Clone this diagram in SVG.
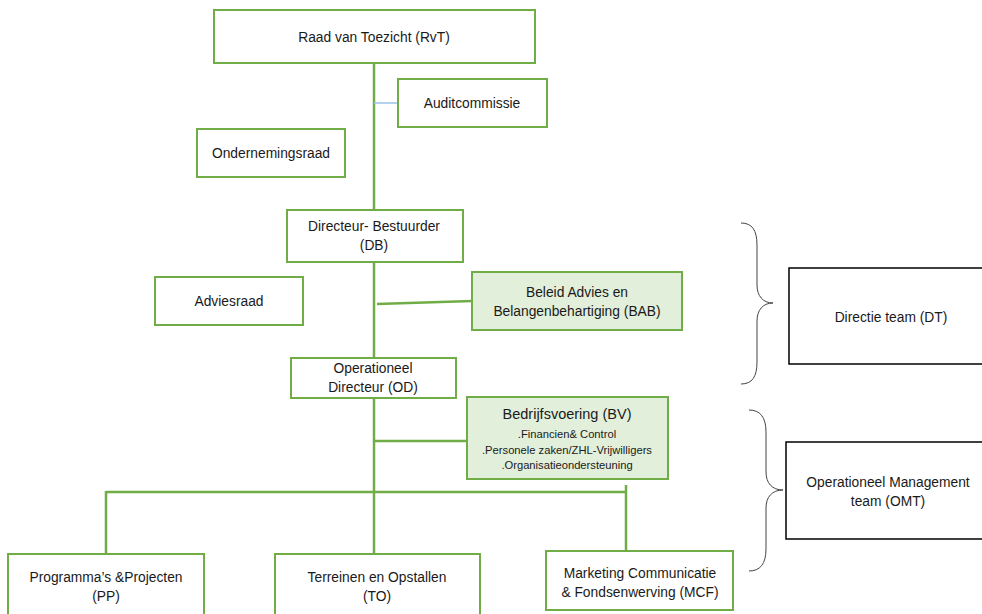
<svg xmlns="http://www.w3.org/2000/svg" width="982" height="614" viewBox="0 0 982 614">
<style>
.box{fill:#ffffff;stroke:#70ad47;stroke-width:2}
.gbox{fill:#e2efda;stroke:#70ad47;stroke-width:2}
.kbox{fill:#ffffff;stroke:#000000;stroke-width:1.5}
.t{font-family:"Liberation Sans",Arial,sans-serif;font-size:13.8px;fill:#1a1a1a;text-anchor:middle}
.s{font-family:"Liberation Sans",Arial,sans-serif;font-size:11.2px;fill:#1a1a1a;text-anchor:middle}
.c{fill:none;stroke:#70ad47;stroke-width:2.5}
.brace{fill:none;stroke:#444444;stroke-width:1}
</style>
<g id="connectors">
<line class="c" x1="374" y1="63" x2="374" y2="210"/>
<line x1="374" y1="103" x2="398" y2="103" stroke="#9dc3e6" stroke-width="1.5"/>
<line class="c" x1="374" y1="262" x2="374" y2="358"/>
<line class="c" x1="377" y1="304" x2="472" y2="301"/>
<line class="c" x1="374" y1="398" x2="374" y2="554"/>
<line class="c" x1="374" y1="441" x2="467" y2="441"/>
<line class="c" x1="106" y1="492" x2="627" y2="492"/>
<line class="c" x1="106" y1="491" x2="106" y2="554"/>
<line class="c" x1="626" y1="485" x2="626" y2="551"/>
</g>
<g id="rvt"><rect class="box" x="214" y="10" width="321" height="53"/><text class="t" x="374" y="42">Raad van Toezicht (RvT)</text></g>
<g id="audit"><rect class="box" x="398" y="79" width="149" height="48"/><text class="t" x="472" y="108">Auditcommissie</text></g>
<g id="or"><rect class="box" x="197" y="129" width="148" height="48"/><text class="t" x="271" y="158">Ondernemingsraad</text></g>
<g id="db"><rect class="box" x="287" y="210" width="176" height="52"/><text class="t" x="374" y="231">Directeur- Bestuurder</text><text class="t" x="374" y="250">(DB)</text></g>
<g id="adviesraad"><rect class="box" x="155" y="277" width="148" height="48"/><text class="t" x="229" y="306">Adviesraad</text></g>
<g id="bab"><rect class="gbox" x="472" y="272" width="210" height="58"/><text class="t" x="577" y="297">Beleid Advies en</text><text class="t" x="577" y="316">Belangenbehartiging (BAB)</text></g>
<g id="od"><rect class="box" x="291" y="358" width="165" height="40"/><text class="t" x="373" y="373">Operationeel</text><text class="t" x="373" y="392">Directeur (OD)</text></g>
<g id="bv"><rect class="gbox" x="467" y="397" width="201" height="82"/><text class="t" x="567" y="419" style="font-size:14.5px">Bedrijfsvoering (BV)</text><text class="s" x="567" y="438">.Financien&amp; Control</text><text class="s" x="567" y="454">.Personele zaken/ZHL-Vrijwilligers</text><text class="s" x="567" y="469">.Organisatieondersteuning</text></g>
<g id="pp"><rect class="box" x="8" y="554" width="196" height="70"/><text class="t" x="106" y="582">Programma’s &amp;Projecten</text><text class="t" x="106" y="601">(PP)</text></g>
<g id="to"><rect class="box" x="275" y="554" width="205" height="70"/><text class="t" x="377" y="582">Terreinen en Opstallen</text><text class="t" x="377" y="601">(TO)</text></g>
<g id="mcf"><rect class="box" x="546" y="551" width="187" height="59"/><text class="t" x="640" y="578">Marketing Communicatie</text><text class="t" x="640" y="597">&amp; Fondsenwerving (MCF)</text></g>
<g id="dt-brace"><path class="brace" d="M741,223 C752,223 757,230 757,245 L757,285 C757,296 763,303 773,303 C763,303 757,310 757,321 L757,362 C757,377 752,384 741,384"/></g>
<g id="dt"><rect class="kbox" x="789" y="268" width="200" height="96"/><text class="t" x="891" y="322">Directie team (DT)</text></g>
<g id="omt-brace"><path class="brace" d="M749,410 C760,410 766,417 766,432 L766,472 C766,483 772,490 783,490 C772,490 766,497 766,508 L766,549 C766,564 760,571 749,571"/></g>
<g id="omt"><rect class="kbox" x="786" y="442" width="203" height="97"/><text class="t" x="888" y="487">Operationeel Management</text><text class="t" x="888" y="506">team (OMT)</text></g>
</svg>
